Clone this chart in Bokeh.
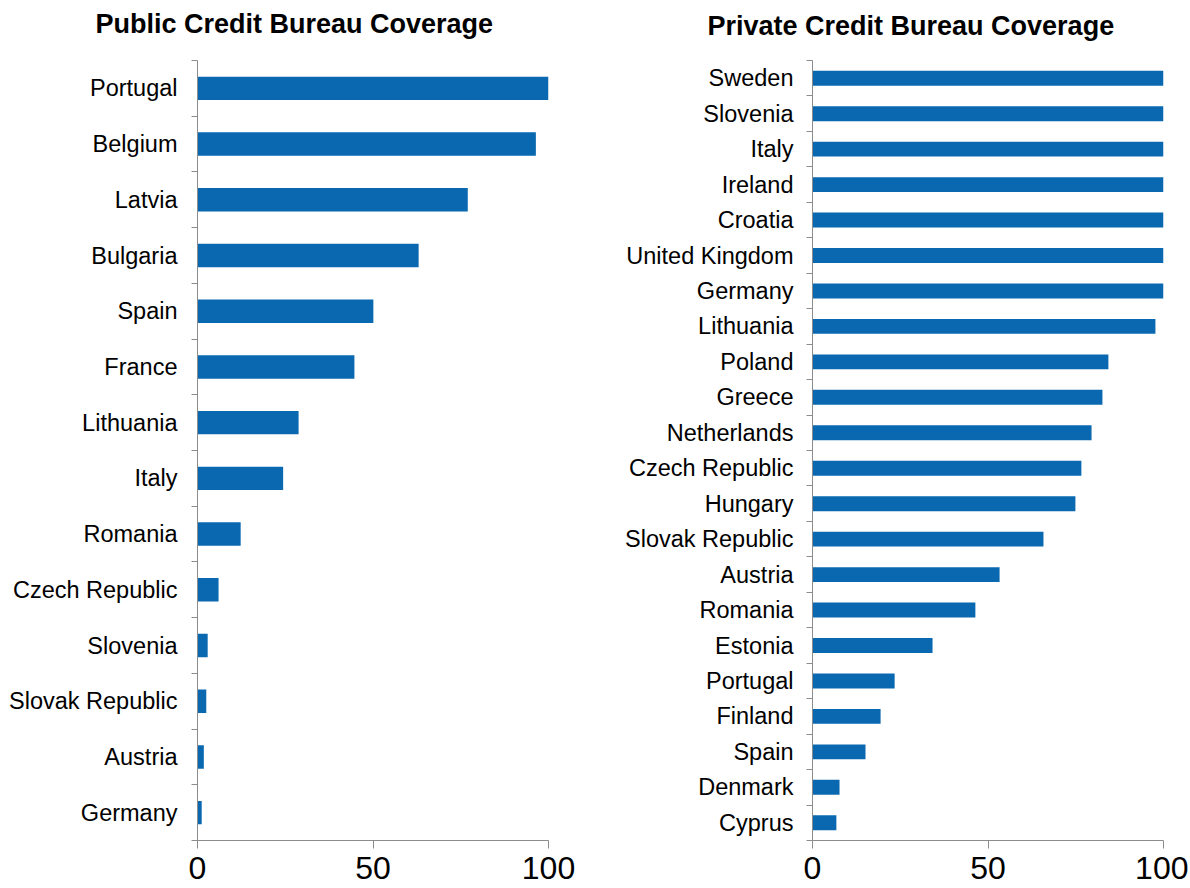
from bokeh.plotting import figure
from bokeh.models import Range1d, FixedTicker, Title, ColumnDataSource
from bokeh.layouts import row
from bokeh.embed import file_html
from bokeh.resources import INLINE

public_countries = ["Portugal", "Belgium", "Latvia", "Bulgaria", "Spain", "France",
                    "Lithuania", "Italy", "Romania", "Czech Republic", "Slovenia",
                    "Slovak Republic", "Austria", "Germany"]
public_values = [100, 96.4, 77.0, 63.0, 50.1, 44.7, 28.8, 24.4, 12.3, 6.0, 2.9, 2.5, 1.8, 1.2]

private_countries = ["Sweden", "Slovenia", "Italy", "Ireland", "Croatia", "United Kingdom",
                     "Germany", "Lithuania", "Poland", "Greece", "Netherlands",
                     "Czech Republic", "Hungary", "Slovak Republic", "Austria", "Romania",
                     "Estonia", "Portugal", "Finland", "Spain", "Denmark", "Cyprus"]
private_values = [100, 100, 100, 100, 100, 100, 100, 97.7, 84.3, 82.6, 79.5, 76.6, 74.9,
                  65.8, 53.3, 46.4, 34.2, 23.4, 19.4, 15.1, 7.7, 6.8]

x_ticks = [0, 50, 100]

BAR = "#0a68b0"
AXIS = "#8c8c8c"
FONT = "Liberation Sans"
H = 886


def make_panel(title, cats, vals, width, border_left, border_right, border_top,
               border_bottom, title_dx, spacer, label_standoff):
    n = len(cats)
    ypos = [n - 1 - i + 0.5 for i in range(n)]
    src = ColumnDataSource(dict(y=ypos, v=vals, name=cats))
    p = figure(width=width, height=H, output_backend="svg", toolbar_location=None,
               title=None,
               x_range=Range1d(0, 100), y_range=Range1d(0, n),
               min_border_left=border_left, min_border_right=border_right,
               min_border_top=border_top, min_border_bottom=border_bottom)
    p.hbar(y="y", left=0, right="v", height=0.42, source=src, fill_color=BAR,
           line_color=None)
    # invisible spacer between the frame and the title
    gap = Title(text=" ", standoff=spacer, text_font_size="1px", text_color="white")
    p.add_layout(gap, "above")
    t = Title(text=title, align="left", offset=title_dx, standoff=8,
              text_font=FONT, text_font_size="27px", text_font_style="bold",
              text_color="#000000")
    p.add_layout(t, "above")
    p.outline_line_color = None
    p.xgrid.grid_line_color = None
    p.ygrid.grid_line_color = None
    p.background_fill_color = "white"
    p.border_fill_color = "white"

    # x axis
    xa = p.xaxis[0]
    xa.ticker = FixedTicker(ticks=x_ticks, minor_ticks=[])
    xa.axis_line_color = AXIS
    xa.major_tick_line_color = AXIS
    xa.major_tick_out = 8
    xa.major_tick_in = 0
    xa.minor_tick_line_color = None
    xa.major_label_text_font = FONT
    xa.major_label_text_font_size = "32px"
    xa.major_label_text_color = "#000000"
    xa.major_label_standoff = 8

    # y axis: labels at category centres, tick marks at category boundaries
    ya = p.yaxis[0]
    ya.ticker = FixedTicker(ticks=ypos, minor_ticks=list(range(n + 1)))
    ya.major_label_overrides = {y: c for y, c in zip(ypos, cats)}
    ya.axis_line_color = AXIS
    ya.major_tick_line_color = None
    ya.major_tick_out = 0
    ya.major_tick_in = 0
    ya.minor_tick_line_color = AXIS
    ya.minor_tick_out = 6
    ya.minor_tick_in = 0
    ya.major_label_text_font = FONT
    ya.major_label_text_font_size = "23.5px"
    ya.major_label_text_color = "#000000"
    ya.major_label_standoff = label_standoff
    return p


p1 = make_panel("Public Credit Bureau Coverage", public_countries, public_values,
                width=600, border_left=197, border_right=52, border_top=60,
                border_bottom=46, title_dx=-102, spacer=15, label_standoff=14)
p2 = make_panel("Private Credit Bureau Coverage", private_countries, private_values,
                width=588, border_left=212, border_right=25, border_top=58,
                border_bottom=46, title_dx=-105, spacer=13, label_standoff=13)

layout = row(p1, p2)
open("out.html", "w").write(file_html(layout, INLINE))
